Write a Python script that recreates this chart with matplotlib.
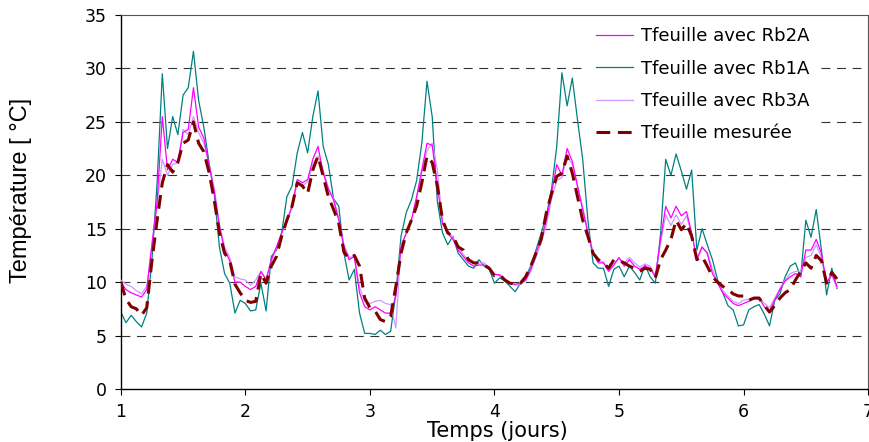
import numpy as np
import matplotlib
matplotlib.use("Agg")
import matplotlib.pyplot as plt

# hourly values, one line per day (day 6 stops at 6.75)
Rb2A = [10.0, 9.3, 9.0, 8.8, 8.6, 9.3, 13.5, 17.5, 25.5, 20.5, 21.5, 21.2, 24.0, 24.3, 28.2, 24.5, 23.5, 21.0, 18.5, 15.2, 13.0, 12.0, 10.0, 10.0,
        9.6, 9.3, 9.6, 11.0, 10.2, 12.1, 13.3, 14.6, 15.8, 17.1, 19.6, 19.3, 19.6, 21.5, 22.7, 20.2, 18.7, 17.7, 15.8, 13.3, 12.1, 12.4, 9.0, 7.7,
        7.4, 7.7, 7.4, 7.1, 7.1, 8.7, 13.3, 14.6, 15.8, 18.0, 20.5, 23.0, 22.8, 19.0, 15.5, 14.6, 14.0, 13.0, 12.4, 11.8, 11.5, 11.6, 11.6, 11.2,
        10.7, 10.7, 10.2, 9.9, 9.8, 9.9, 10.2, 11.2, 12.7, 14.0, 15.8, 18.3, 21.0, 20.0, 22.5, 21.3, 19.0, 16.8, 14.6, 12.7, 11.8, 11.8, 11.0, 11.6,
        12.3, 11.5, 12.1, 11.5, 11.2, 11.5, 11.3, 10.5, 14.0, 17.1, 16.0, 17.1, 16.2, 16.6, 14.6, 12.1, 13.3, 12.7, 10.8, 9.9, 9.0, 8.5, 8.0, 7.8,
        8.0, 8.2, 8.5, 8.5, 7.7, 7.3, 8.3, 9.3, 10.1, 10.5, 10.8, 10.5, 13.0, 13.0, 14.0, 12.7, 9.9, 10.8, 9.6]

Rb1A = [7.2, 6.2, 6.9, 6.3, 5.8, 7.1, 12.1, 19.3, 29.5, 22.5, 25.5, 23.8, 27.5, 28.2, 31.6, 27.0, 24.5, 21.2, 18.3, 13.3, 10.8, 9.9, 7.1, 8.3,
        8.0, 7.3, 7.4, 9.9, 7.3, 12.4, 13.0, 14.6, 18.0, 19.0, 22.1, 24.0, 22.1, 25.5, 27.9, 22.7, 21.0, 17.8, 17.1, 12.7, 10.2, 11.2, 7.1, 5.2,
        5.2, 5.1, 5.5, 5.1, 5.4, 9.0, 14.3, 16.5, 17.7, 19.5, 23.0, 28.8, 25.5, 17.5, 14.6, 13.5, 14.3, 12.7, 12.1, 11.5, 11.3, 12.1, 11.5, 11.2,
        9.9, 10.4, 10.1, 9.6, 9.1, 9.9, 10.5, 11.5, 13.0, 14.6, 16.2, 18.7, 22.7, 29.6, 26.5, 29.1, 25.2, 21.5, 15.8, 11.8, 11.3, 11.3, 9.6, 11.2,
        11.5, 10.5, 11.5, 10.9, 10.2, 11.6, 10.5, 9.9, 14.5, 21.5, 20.0, 22.0, 20.4, 18.7, 20.5, 13.0, 15.0, 13.5, 12.1, 10.2, 9.0, 7.8, 7.4, 5.9,
        6.0, 7.4, 7.7, 7.9, 7.0, 5.9, 8.3, 8.9, 10.5, 11.5, 11.8, 10.5, 15.8, 14.2, 16.8, 13.0, 8.8, 11.3, 9.4]

Rb3A = [10.2, 9.8, 9.6, 9.2, 8.9, 9.6, 13.5, 17.3, 21.5, 20.0, 21.0, 21.2, 24.3, 23.8, 25.5, 24.0, 23.0, 21.0, 18.8, 15.5, 13.3, 12.3, 10.5, 10.3,
        10.2, 9.7, 10.2, 11.0, 10.3, 12.0, 13.2, 14.6, 15.6, 17.0, 19.3, 19.0, 19.4, 21.0, 21.8, 20.5, 18.8, 17.8, 16.0, 13.5, 12.3, 12.4, 9.5, 8.2,
        8.0, 8.2, 8.3, 8.0, 7.9, 5.7, 13.5, 14.5, 15.8, 17.8, 20.3, 22.3, 23.0, 20.5, 15.5, 14.8, 14.2, 13.2, 12.6, 12.0, 11.8, 11.8, 11.8, 11.3,
        10.8, 10.6, 10.2, 9.9, 9.7, 9.8, 10.1, 11.0, 12.3, 13.7, 15.3, 17.8, 19.5, 19.8, 21.8, 21.0, 19.0, 17.0, 14.8, 12.8, 12.0, 11.9, 11.2, 11.8,
        12.2, 11.8, 12.3, 11.8, 11.4, 11.7, 11.5, 10.6, 13.7, 16.3, 15.3, 16.3, 15.4, 16.2, 14.5, 12.3, 13.2, 12.8, 11.2, 10.0, 9.2, 8.7, 8.2, 8.0,
        8.3, 8.4, 8.6, 8.6, 8.0, 7.6, 8.5, 9.4, 10.2, 10.8, 11.0, 11.0, 12.3, 12.5, 13.5, 12.3, 10.0, 10.6, 9.5]

Tmes = [10.0, 8.4, 7.7, 7.5, 6.9, 7.6, 12.0, 15.8, 19.3, 21.0, 20.3, 21.2, 23.0, 23.3, 25.0, 23.0, 22.2, 20.3, 17.7, 14.6, 12.7, 12.0, 9.8, 9.0,
        8.3, 8.1, 8.2, 10.8, 9.9, 11.5, 12.4, 14.3, 15.8, 17.1, 19.3, 19.0, 18.3, 20.5, 21.8, 19.9, 18.0, 16.8, 15.5, 12.8, 12.2, 12.5, 11.5, 8.5,
        7.6, 7.3, 6.5, 6.3, 6.8, 9.6, 12.7, 14.6, 15.8, 17.1, 19.3, 21.8, 21.2, 19.0, 15.8, 14.6, 14.3, 13.3, 13.0, 12.1, 11.8, 11.8, 11.6, 11.3,
        10.6, 10.7, 10.2, 9.9, 9.8, 9.9, 10.5, 11.5, 12.7, 14.0, 16.5, 18.3, 19.9, 20.2, 21.8, 20.2, 18.0, 15.8, 14.3, 12.7, 12.1, 11.8, 11.3, 12.1,
        12.0, 11.8, 11.5, 11.3, 11.0, 11.3, 11.2, 10.4, 12.1, 13.0, 14.0, 15.8, 14.9, 15.5, 14.3, 12.1, 12.4, 11.5, 10.5, 10.0, 9.6, 9.3, 8.9, 8.7,
        8.7, 8.3, 8.5, 8.5, 7.8, 7.2, 7.8, 8.5, 9.0, 9.3, 10.2, 11.0, 11.8, 11.3, 12.5, 12.0, 9.9, 10.9, 10.3]

labels = ["Tfeuille avec Rb2A", "Tfeuille avec Rb1A", "Tfeuille avec Rb3A", "Tfeuille mesurée"]
gridLevels = [5, 10, 15, 20, 25, 30]

t = 1 + np.arange(len(Tmes)) / 24.0

fig = plt.figure(figsize=(8.69, 4.42), dpi=100)
ax = fig.add_axes([0.139, 0.12, 0.86, 0.846])

for g in gridLevels:
    ax.axhline(g, color="#333333", lw=0.8, ls=(0, (8, 6)), zorder=0)

l1, = ax.plot(t, Rb1A, color="#008080", lw=0.9, zorder=2)
l3, = ax.plot(t, Rb3A, color="#CC99FF", lw=0.9, zorder=3)
l2, = ax.plot(t, Rb2A, color="#FF00FF", lw=0.9, zorder=4)
l4, = ax.plot(t, Tmes, color="#800000", lw=2.2, ls=(0, (4.5, 2.5)), zorder=5)

ax.set_xlim(1, 7)
ax.set_ylim(0, 35)
ax.set_xticks(np.arange(1, 8))
ax.set_yticks(np.arange(0, 36, 5))
ax.tick_params(direction="out", length=4, width=0.8, labelsize=12.5, pad=6)
ax.tick_params(axis="x", pad=6)
for s in ["left", "bottom"]:
    ax.spines[s].set_color("black")
    ax.spines[s].set_linewidth(1.0)
for s in ["top", "right"]:
    ax.spines[s].set_color("#555555")
    ax.spines[s].set_linewidth(0.8)

leg = ax.legend([l2, l1, l3, l4], labels, loc="upper left", bbox_to_anchor=(0.677, 0.955),
                bbox_transform=fig.transFigure, fontsize=13, frameon=True, fancybox=False,
                borderpad=0.4, borderaxespad=0, handlelength=2.05, handletextpad=0.45,
                labelspacing=0.8)
leg.get_frame().set_facecolor("white")
leg.get_frame().set_edgecolor("none")
leg.get_frame().set_alpha(1.0)
leg.set_zorder(10)

fig.text(497 / 869, 1 - 431 / 442, "Temps (jours)", ha="center", va="center", fontsize=15)
fig.text(21 / 869, 1 - 190 / 442, "Température [ °C]", ha="center", va="center", rotation=90,
         fontsize=17, family="Liberation Sans")

fig.savefig("out.png", dpi=100)
